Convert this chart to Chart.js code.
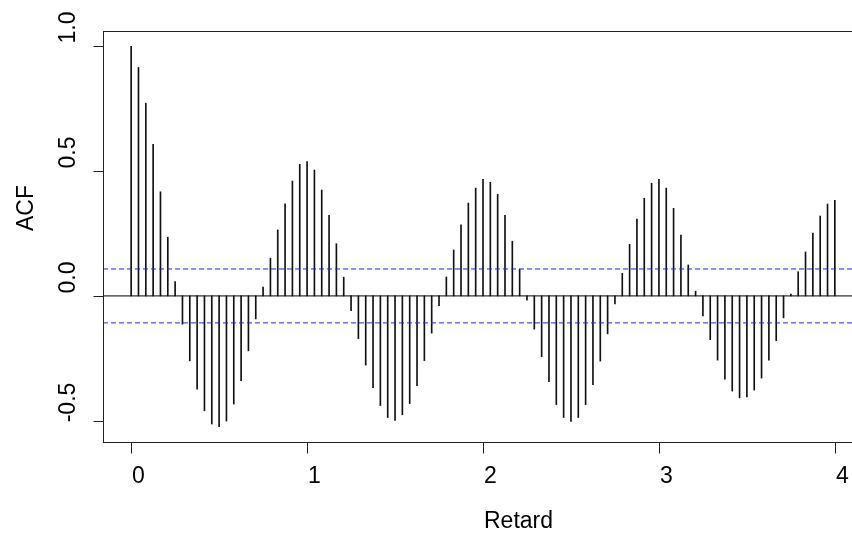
<!DOCTYPE html>
<html>
<head>
<meta charset="utf-8">
<script src="https://cdn.jsdelivr.net/npm/chart.js@4.4.0/dist/chart.umd.min.js"></script>
<style>
html, body { margin: 0; padding: 0; background: #fff; overflow: hidden; }
#wrap { width: 900px; height: 534px; }
</style>
</head>
<body>
<div id="wrap"><canvas id="acfChart" width="900" height="534"></canvas></div>
<script>
// lags are in "periods" of 24 observations (0 .. 4)
const lagsPerPeriod = 24;

// autocorrelation, one value per lag
const acfValues = [
    1.000, 0.915, 0.772, 0.607, 0.417, 0.235, 0.057, -0.113, -0.260, -0.373, -0.460, -0.513,
    -0.524, -0.501, -0.433, -0.339, -0.220, -0.092, 0.035, 0.151, 0.264, 0.369, 0.460, 0.527,
    0.538, 0.504, 0.424, 0.323, 0.209, 0.075, -0.059, -0.171, -0.277, -0.367, -0.439, -0.487,
    -0.499, -0.476, -0.431, -0.359, -0.259, -0.149, -0.039, 0.076, 0.184, 0.285, 0.372, 0.432,
    0.467, 0.455, 0.407, 0.323, 0.219, 0.107, -0.017, -0.133, -0.243, -0.343, -0.435, -0.487,
    -0.503, -0.487, -0.435, -0.355, -0.261, -0.152, -0.032, 0.091, 0.207, 0.308, 0.391, 0.451,
    0.467, 0.432, 0.351, 0.244, 0.124, 0.019, -0.080, -0.175, -0.257, -0.333, -0.381, -0.408,
    -0.404, -0.377, -0.329, -0.257, -0.179, -0.088, 0.007, 0.097, 0.176, 0.252, 0.320, 0.368,
    0.383
];

// confidence bound (dashed blue lines)
const ciBound = 0.108;

// axis ticks
const xTickValues = [0, 1, 2, 3, 4];
const xTickLabels = ['0', '1', '2', '3', '4'];
const yTickValues = [1.0, 0.5, 0.0, -0.5];
const yTickLabels = ['1.0', '0.5', '0.0', '-0.5'];

// R style axis ranges (4% padding)
const xRange = [-0.16, 4.16];
const yRange = [-0.585, 1.061];

const FONT = '23px "Liberation Sans", Arial, sans-serif';

const acfPoints = acfValues.map((v, i) => ({ x: i / lagsPerPeriod, y: v }));

// frame, ticks and labels drawn R-like
const axesFrame = {
    id: 'axesFrame',
    afterDraw(chart) {
        const { ctx, chartArea: a, scales: { x, y } } = chart;
        ctx.save();
        ctx.strokeStyle = '#222';
        ctx.lineWidth = 1;
        const l = Math.round(a.left) + 0.5, t = Math.round(a.top) + 0.5;
        const r = Math.round(a.right) + 0.5, b = Math.round(a.bottom) + 0.5;
        ctx.strokeRect(l, t, r - l, b - t);

        ctx.font = FONT;
        ctx.fillStyle = '#000';

        // x axis
        ctx.textAlign = 'center';
        ctx.textBaseline = 'alphabetic';
        xTickValues.forEach((v, i) => {
            const px = Math.round(x.getPixelForValue(v)) + 0.5;
            ctx.beginPath();
            ctx.moveTo(px, b);
            ctx.lineTo(px, b + 11);
            ctx.stroke();
            ctx.fillText(xTickLabels[i], px + 7, 483);
        });

        // y axis
        yTickValues.forEach((v, i) => {
            const py = Math.round(y.getPixelForValue(v)) + 0.5;
            ctx.beginPath();
            ctx.moveTo(l - 10, py);
            ctx.lineTo(l, py);
            ctx.stroke();
            ctx.save();
            ctx.translate(75, py - 19);
            ctx.rotate(-Math.PI / 2);
            ctx.fillText(yTickLabels[i], 0, 0);
            ctx.restore();
        });

        // axis titles
        ctx.save();
        ctx.translate(33, 208);
        ctx.rotate(-Math.PI / 2);
        ctx.fillText('ACF', 0, 0);
        ctx.restore();

        ctx.textAlign = 'left';
        ctx.fillText('Retard', 484, 528);
        ctx.restore();
    }
};

new Chart(document.getElementById('acfChart').getContext('2d'), {
    type: 'bar',
    data: {
        datasets: [{
            type: 'bar',
            label: 'ACF',
            data: acfPoints,
            backgroundColor: '#111',
            borderWidth: 0,
            barThickness: 1,
            order: 3
        }, {
            type: 'line',
            label: 'zero',
            data: [{ x: xRange[0], y: 0 }, { x: xRange[1], y: 0 }],
            borderColor: '#000',
            borderWidth: 1,
            pointRadius: 0,
            order: 2
        }, {
            type: 'line',
            label: 'upper',
            data: [{ x: xRange[0], y: ciBound }, { x: xRange[1], y: ciBound }],
            borderColor: '#2020ff',
            borderWidth: 1,
            borderDash: [5, 3],
            pointRadius: 0,
            order: 1
        }, {
            type: 'line',
            label: 'lower',
            data: [{ x: xRange[0], y: -ciBound }, { x: xRange[1], y: -ciBound }],
            borderColor: '#2020ff',
            borderWidth: 1,
            borderDash: [5, 3],
            pointRadius: 0,
            order: 1
        }]
    },
    options: {
        responsive: false,
        animation: false,
        devicePixelRatio: 1,
        layout: {
            padding: { left: 103, top: 31, right: 37, bottom: 92 }
        },
        scales: {
            x: { type: 'linear', min: xRange[0], max: xRange[1], offset: false, display: false },
            y: { type: 'linear', min: yRange[0], max: yRange[1], display: false }
        },
        plugins: {
            legend: { display: false },
            tooltip: { enabled: false }
        }
    },
    plugins: [axesFrame]
});
</script>
</body>
</html>
